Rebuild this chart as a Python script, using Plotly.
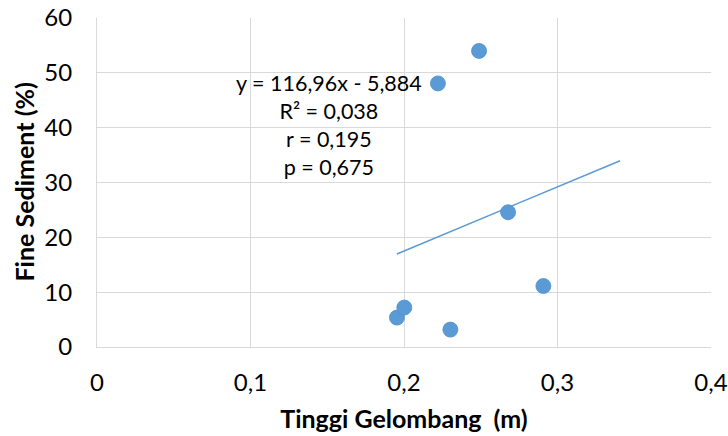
import plotly.graph_objects as go

tinggi_gelombang = [0.1954, 0.2002, 0.2221, 0.2302, 0.2489, 0.2678, 0.2908]
fine_sediment = [5.36, 7.19, 48.07, 3.17, 54.0, 24.58, 11.13]
slope = 116.96
intercept = -5.884
forecast_forward = 0.05
eq_lines = ["y = 116,96x - 5,884", "R² = 0,038", "r = 0,195", "p = 0,675"]
x_ticks = [0, 0.1, 0.2, 0.3, 0.4]
x_ticklabels = ["0", "0,1", "0,2", "0,3", "0,4"]
y_ticks = [0, 10, 20, 30, 40, 50, 60]
x_title = "Tinggi Gelombang  (m)"
y_title = "Fine Sediment (%)"

blue = "#5B9BD5"
font_family = "Lato, 'Liberation Sans', sans-serif"

tx = [min(tinggi_gelombang), max(tinggi_gelombang) + forecast_forward]
ty = [slope * v + intercept for v in tx]

fig = go.Figure()
fig.add_trace(go.Scatter(x=tx, y=ty, mode="lines",
                         line=dict(color=blue, width=1.5), hoverinfo="skip"))
fig.add_trace(go.Scatter(x=tinggi_gelombang, y=fine_sediment, mode="markers",
                         marker=dict(color=blue, size=15,
                                     line=dict(color="#4F8FCB", width=0.8))))

fig.add_annotation(x=0.1511, y=40.4, xref="x", yref="y",
                   text="<br>".join(eq_lines), showarrow=False,
                   font=dict(family=font_family, size=21.5, color="#000000"),
                   align="center", xanchor="center", yanchor="middle")

# y-axis title placed as a rotated annotation for precise positioning
fig.add_annotation(x=-0.1205, y=0.5, xref="paper", yref="paper",
                   text=f"<b>{y_title}</b>", showarrow=False, textangle=-90,
                   font=dict(family=font_family, size=25, color="#000000"),
                   xanchor="center", yanchor="middle")

axis_common = dict(showgrid=True, gridcolor="#D9D9D9", gridwidth=1,
                   showline=True, linecolor="#D9D9D9", linewidth=1,
                   zeroline=False, ticks="", automargin=False,
                   ticklabeloverflow="allow",
                   tickfont=dict(family=font_family, size=24, color="#000000"))

fig.update_layout(
    width=728, height=436,
    margin=dict(l=97, r=17, t=18, b=89),
    paper_bgcolor="white", plot_bgcolor="white",
    showlegend=False,
    xaxis=dict(range=[0, 0.4], tickvals=x_ticks, ticktext=x_ticklabels,
               title=dict(text=f"<b>{x_title}</b>", standoff=15,
                          font=dict(family=font_family, size=25, color="#000000")),
               **axis_common),
    yaxis=dict(range=[0, 60], tickvals=y_ticks, **axis_common),
)
fig.update_xaxes(ticklabelstandoff=14)
fig.update_yaxes(ticklabelstandoff=19)

fig.write_html("out.html", config={"displayModeBar": False},
               post_script="document.body.style.margin='0';")
